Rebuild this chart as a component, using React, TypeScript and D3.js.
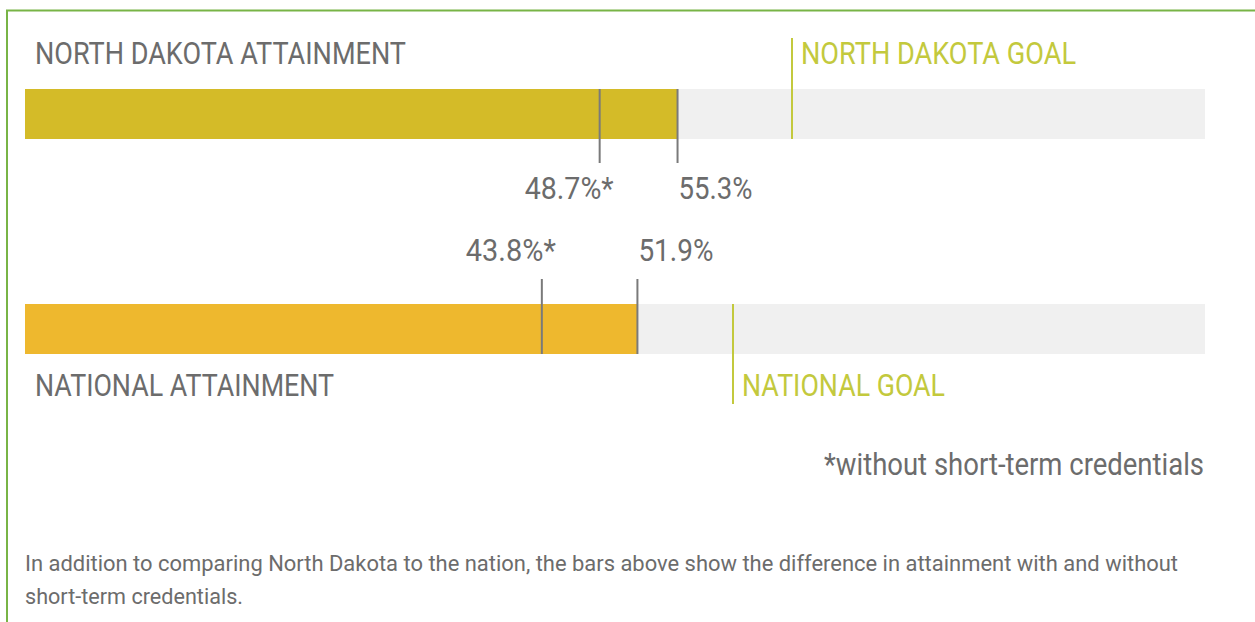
import React from "react";
import * as d3 from "d3";

const rows = ["North Dakota", "National"];
const titles = ["NORTH DAKOTA ATTAINMENT", "NATIONAL ATTAINMENT"];
const goalTitles = ["NORTH DAKOTA GOAL", "NATIONAL GOAL"];
const withShortTerm = [55.3, 51.9];
const withoutShortTerm = [48.7, 43.8];
const goals = [65, 60];
const barColors = ["#d4bb28", "#eeb82e"];
const footnoteStar = "*without short-term credentials";
const captionLines = [
  "In addition to comparing North Dakota to the nation, the bars above show the difference in attainment with and without",
  "short-term credentials.",
];

const W = 1255;
const H = 622;
const FONT = "Roboto, 'Liberation Sans', sans-serif";
const TEXT = "#6c6c6c";
const GOAL = "#c3c93d";
const MARK = "#7a7a7a";

// layout per row (positions only)
const layout = [
  { barY: 89, titleY: 64, labelY: 199, markTop: 89, markBot: 163, goalTop: 38, goalBot: 139, goalLabelY: 64 },
  { barY: 304, titleY: 396, labelY: 261, markTop: 279, markBot: 354, goalTop: 304, goalBot: 404, goalLabelY: 396 },
];
const titleWidths = [371, 299];
const goalWidths = [275, 203];
const withoutWidths = [89, 90];
const withWidths = [74, 75];

export default function App() {
  const x = d3.scaleLinear().domain([0, 100]).range([25, 1205]);
  const barH = 50;
  return (
    <svg
      width={W}
      height={H}
      style={{ position: "absolute", left: 0, top: 0, background: "#fff" }}
      fontFamily={FONT}
    >
      <rect x={7} y={10.5} width={W} height={H} fill="none" stroke="#78b446" strokeWidth={2} />
      {rows.map((r, i) => {
        const L = layout[i];
        const fmt = (v: number) => d3.format(".1f")(v) + "%";
        return (
          <g key={r}>
            <rect x={x(0)} y={L.barY} width={x(100) - x(0)} height={barH} fill="#f0f0f0" />
            <rect x={x(0)} y={L.barY} width={x(withShortTerm[i]) - x(0)} height={barH} fill={barColors[i]} />
            <line x1={x(withoutShortTerm[i])} x2={x(withoutShortTerm[i])} y1={L.markTop} y2={L.markBot} stroke={MARK} strokeWidth={2} />
            <line x1={x(withShortTerm[i])} x2={x(withShortTerm[i])} y1={L.markTop} y2={L.markBot} stroke={MARK} strokeWidth={2} />
            <line x1={x(goals[i])} x2={x(goals[i])} y1={L.goalTop} y2={L.goalBot} stroke={GOAL} strokeWidth={2} />
            <text x={35} y={L.titleY} fontSize={32} fill={TEXT} textLength={titleWidths[i]} lengthAdjust="spacingAndGlyphs">
              {titles[i]}
            </text>
            <text x={x(goals[i]) + 9} y={L.goalLabelY} fontSize={32} fill={GOAL} textLength={goalWidths[i]} lengthAdjust="spacingAndGlyphs">
              {goalTitles[i]}
            </text>
            <text x={x(withoutShortTerm[i]) + 14 - withoutWidths[i]} y={L.labelY} fontSize={32} fill={TEXT} textLength={withoutWidths[i]} lengthAdjust="spacingAndGlyphs">
              {fmt(withoutShortTerm[i]) + "*"}
            </text>
            <text x={x(withShortTerm[i]) + 1} y={L.labelY} fontSize={32} fill={TEXT} textLength={withWidths[i]} lengthAdjust="spacingAndGlyphs">
              {fmt(withShortTerm[i])}
            </text>
          </g>
        );
      })}
      <text x={824} y={475} fontSize={31} fill={TEXT} textLength={380} lengthAdjust="spacingAndGlyphs">
        {footnoteStar}
      </text>
      <text x={25} y={571} fontSize={22} fill={TEXT} textLength={1153} lengthAdjust="spacingAndGlyphs">
        {captionLines[0]}
      </text>
      <text x={25} y={604} fontSize={22} fill={TEXT} textLength={218} lengthAdjust="spacingAndGlyphs">
        {captionLines[1]}
      </text>
    </svg>
  );
}
